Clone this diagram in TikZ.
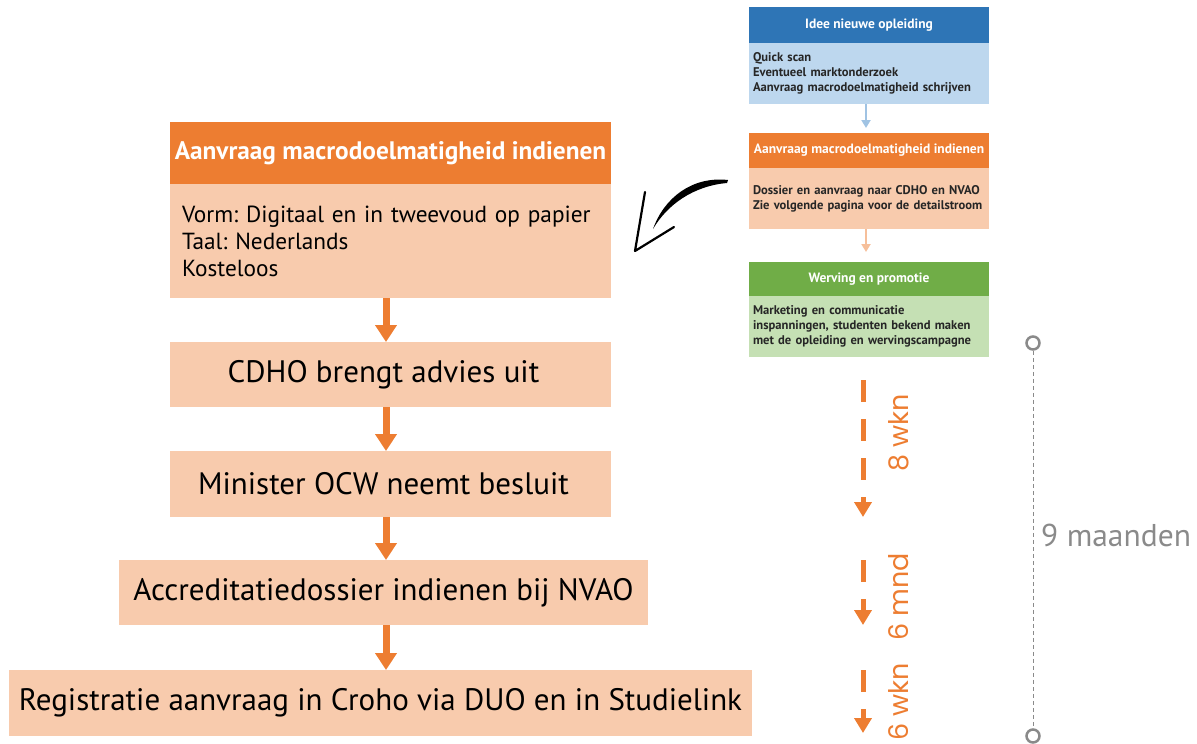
\documentclass[tikz,border=0pt]{standalone}
\usepackage{fontspec}
\setmainfont{PT Sans}
\newfontfamily\geo{Poppins}
\usetikzlibrary{arrows.meta}
\definecolor{orng}{HTML}{ED7D31}
\definecolor{lorng}{HTML}{F8CBAD}
\definecolor{blu}{HTML}{2E75B6}
\definecolor{lblu}{HTML}{BDD7EE}
\definecolor{grn}{HTML}{70AD47}
\definecolor{lgrn}{HTML}{C5E0B4}
\definecolor{gry}{HTML}{8A8A8A}
\frenchspacing
\begin{document}
\frenchspacing
\begin{tikzpicture}[x=1pt,y=-1pt,
  boxbase/.style={rectangle, inner sep=0pt, outer sep=0pt, anchor=center},
  bighdr/.style={boxbase, fill=orng, text=white, font=\fontsize{25.3}{29}\selectfont\bfseries},
  bigbody/.style={boxbase, fill=lorng, text=black, font=\fontsize{23.3}{27}\selectfont},
  bigbox/.style={boxbase, fill=lorng, text=black, font=\fontsize{31}{34}\selectfont},
  smhdr/.style={boxbase, text=white, minimum width=240pt, font=\fontsize{13.5}{15}\selectfont\bfseries},
  smbody/.style={boxbase, text=black!85, minimum width=240pt, text width=232pt, align=left, font=\fontsize{12.6}{14.8}\selectfont\bfseries},
  bigarrow/.style={draw=orng, line width=7pt, -{Triangle[width=21pt,length=17pt]}},
  smarrow/.style={line width=2pt, -{Triangle[width=9pt,length=8pt]}},
  dasharrow/.style={draw=orng, line width=5pt, dash pattern=on 22pt off 17pt, -{Triangle[width=17pt,length=15pt]}},
  durlabel/.style={text=orng, rotate=90, font=\geo\fontsize{27}{30}\selectfont},
  tlcircle/.style={circle, draw=gry, line width=2.5pt, fill=white, minimum size=13pt, inner sep=0pt}
]
\useasboundingbox (0,0) rectangle (1197,744);

% ---------- left column ----------
\node[bighdr, minimum width=441pt, minimum height=62pt] (h1) at (390.5,153) {Aanvraag macrodoelmatigheid indienen};
\node[bigbody, minimum width=441pt, minimum height=114pt, text width=417pt, align=left] (b1) at (390.5,241)
  {Vorm: Digitaal en in tweevoud op papier\\Taal: Nederlands\\Kosteloos};
\node[bigbox, minimum width=441pt, minimum height=65pt] (b2) at (390.5,374.5) {CDHO brengt advies uit\hspace*{14pt}};
\node[bigbox, minimum width=441pt, minimum height=66pt] (b3) at (390.5,484) {Minister OCW neemt besluit\hspace*{14pt}};
\node[bigbox, minimum width=529pt, minimum height=65pt] (b4) at (383.5,592.5) {Accreditatiedossier indienen bij NVAO};
\node[bigbox, minimum width=743pt, minimum height=66pt] (b5) at (380.5,703) {Registratie aanvraag in Croho via DUO en in Studielink};

\coordinate (ax) at (386,0);
\draw[bigarrow] (b1.south -| ax) -- (b2.north -| ax);
\draw[bigarrow] (b2.south -| ax) -- (b3.north -| ax);
\draw[bigarrow] (b3.south -| ax) -- (b4.north -| ax);
\draw[bigarrow] (b4.south -| ax) -- (b5.north -| ax);

% ---------- right column ----------
\node[smhdr, fill=blu, minimum height=36pt] (hA) at (869,25) {Idee nieuwe opleiding};
\node[smbody, fill=lblu, minimum height=61pt] (bA) at (869,73.5)
  {Quick scan\\Eventueel marktonderzoek\\Aanvraag macrodoelmatigheid schrijven};
\node[smhdr, fill=orng, minimum height=35pt] (hB) at (869,150.5) {Aanvraag macrodoelmatigheid indienen};
\node[smbody, fill=lorng, minimum height=61pt] (bB) at (869,198.5)
  {Dossier en aanvraag naar CDHO en NVAO\\Zie volgende pagina voor de detailstroom};
\node[smhdr, fill=grn, minimum height=34pt] (hC) at (869,279) {Werving en promotie};
\node[smbody, fill=lgrn, minimum height=61pt] (bC) at (869,326.5)
  {Marketing en communicatie\\inspanningen, studenten bekend maken\\met de opleiding en wervingscampagne};

\coordinate (rx) at (866,0);
\draw[smarrow, draw=lblu!80!blu, fill=lblu!80!blu, shorten >=5pt] (bA.south -| rx) -- (hB.north -| rx);
\draw[smarrow, draw=lorng!85!orng, fill=lorng!85!orng, shorten >=10pt] (bB.south -| rx) -- (hC.north -| rx);

% ---------- curved hand-drawn arrow ----------
\coordinate (cs) at (728,180);
\coordinate (ce) at (653,229);
\coordinate (ctip) at (635,251);
\coordinate (cl) at (645,192);
\coordinate (cr) at (674,227);
\fill[black] (cs) .. controls (692,176) and (664,198) .. (ce)
  .. controls (667,205) and (693,186) .. (727,183) -- cycle;
\draw[black, line width=2.2pt, line cap=round, line join=round] (cl) -- (ctip) -- (cr);

% ---------- dashed duration arrows ----------
\coordinate (d1s) at (863,380);
\coordinate (d1e) at (863,517);
\coordinate (d2s) at (863,560);
\coordinate (d2e) at (863,625);
\coordinate (d3s) at (863,670);
\coordinate (d3e) at (863,733);
\draw[dasharrow] (d1s) -- (d1e);
\draw[dasharrow] (d2s) -- (d2e);
\draw[dasharrow] (d3s) -- (d3e);
\node[durlabel] (l1) at (899,433) {8 wkn};
\node[durlabel] (l2) at (899,597) {6 mnd};
\node[durlabel] (l3) at (899,702) {6 wkn};

% ---------- 9 maanden timeline ----------
\node[tlcircle] (t1) at (1033,343) {};
\node[tlcircle] (t2) at (1033,736) {};
\draw[gry, line width=1pt, dash pattern=on 4pt off 3pt] (t1) -- (t2);
\node[anchor=west, text=gry, font=\fontsize{31.5}{34}\selectfont, inner sep=0pt] (tl) at (1041,535) {9 maanden};
\end{tikzpicture}
\end{document}
